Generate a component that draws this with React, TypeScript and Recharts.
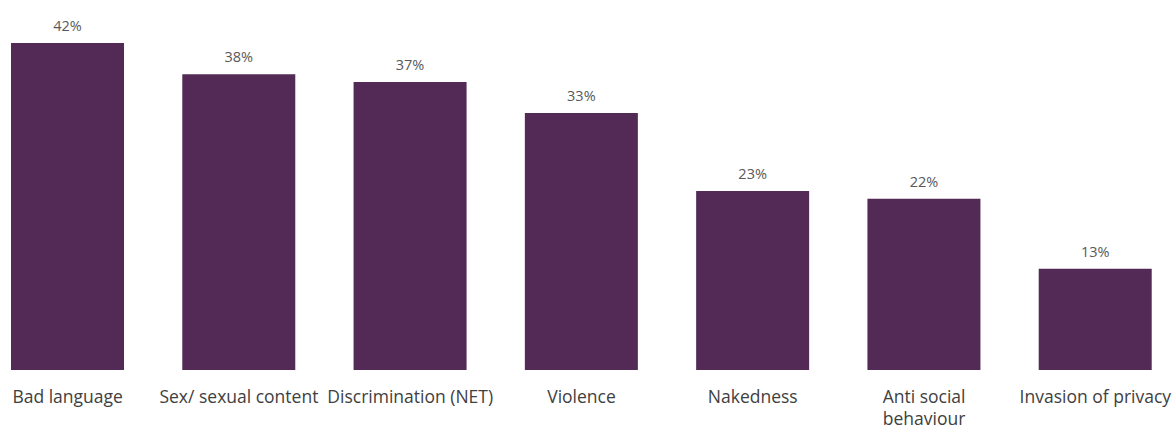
import { Bar, BarChart, LabelList, XAxis, YAxis } from "recharts";

const categories = [
  "Bad language",
  "Sex/ sexual content",
  "Discrimination (NET)",
  "Violence",
  "Nakedness",
  "Anti social\nbehaviour",
  "Invasion of privacy",
];
const values = [42, 38, 37, 33, 23, 22, 13];

const BAR_COLOR = "#532A55";
const FONT = "'Open Sans', 'Noto Sans', sans-serif";

const data = categories.map((name, i) => ({ name, value: values[i] }));

function CategoryTick(props: { x?: number; y?: number; payload?: { value: string } }) {
  const { x = 0, y = 0, payload } = props;
  const lines = (payload?.value ?? "").split("\n");
  return (
    <text x={x} y={y} textAnchor="middle" fill="#404040" fontSize={17.5} fontFamily={FONT}>
      {lines.map((line, i) => (
        <tspan key={i} x={x} dy={i === 0 ? 25 : 22}>
          {line}
        </tspan>
      ))}
    </text>
  );
}

export default function App() {
  return (
    <div
      style={{
        position: "absolute",
        left: 0,
        top: 0,
        width: 1175,
        height: 428,
        overflow: "hidden",
        background: "#fff",
      }}
    >
      <div style={{ marginLeft: -18 }}>
        <BarChart
          width={1199}
          height={428}
          data={data}
          margin={{ top: 43, right: 0, left: 0, bottom: 0 }}
          barCategoryGap={29}
        >
          <XAxis
            dataKey="name"
            axisLine={false}
            tickLine={false}
            height={58}
            interval={0}
            tick={<CategoryTick />}
          />
          <YAxis hide domain={[0, "dataMax"]} />
          <Bar dataKey="value" fill={BAR_COLOR} isAnimationActive={false}>
            <LabelList
              dataKey="value"
              position="top"
              offset={12}
              formatter={(v: number) => `${v}%`}
              fill="#595959"
              fontSize={14.5}
              fontFamily={FONT}
            />
          </Bar>
        </BarChart>
      </div>
    </div>
  );
}
